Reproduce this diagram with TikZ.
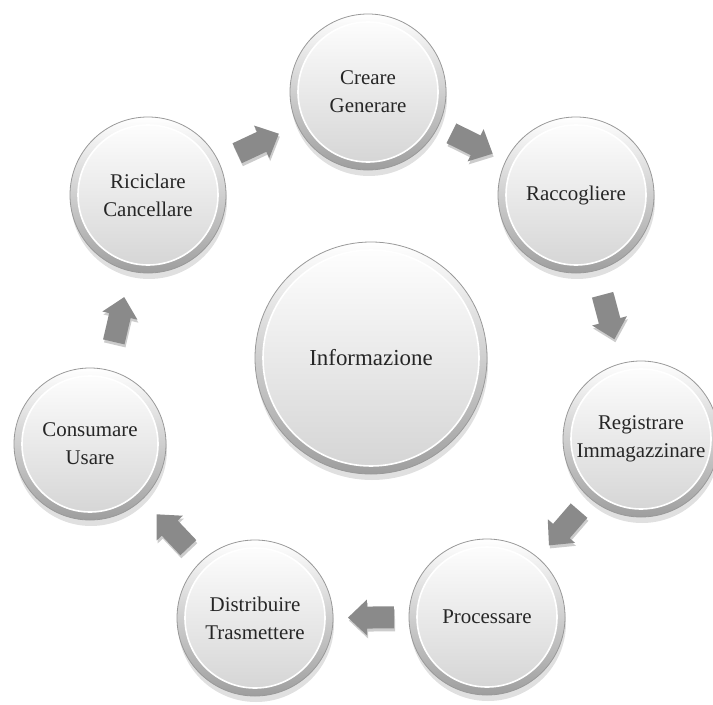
\documentclass[tikz,border=0pt]{standalone}
\usepackage{fontspec}
\setmainfont{Liberation Serif}
\usetikzlibrary{calc,shadows}
\tikzset{
  ball/.style={circle, minimum size=2*#1*1bp, inner sep=0pt, align=center,
    font=\fontsize{21}{28}\selectfont, text=black!85,
    draw=black!40, line width=0.8bp,
    top color=white, bottom color=black!38,
    drop shadow={shadow xshift=1bp, shadow yshift=-6bp, opacity=0.12, fill=black},
    path picture={\shadedraw[top color=white, bottom color=black!17, draw=white, line width=1.6bp]
      (path picture bounding box.center) circle[radius=#1-8];}},
  bigfont/.style={font=\fontsize{23}{28}\selectfont},
  barrow/.pic={\fill[black!46, drop shadow={shadow xshift=1bp, shadow yshift=-3bp, opacity=0.2, fill=black}]
      (-23,-11) -- (4,-11) -- (4,-18) -- (23,0) -- (4,18) -- (4,11) -- (-23,11) -- cycle;}
}
\newcommand\cycarrow[2]{\path let \p1=(#1.center), \p2=(#2.center),
  \n1={atan2(\y2-\y1,\x2-\x1)} in pic[rotate=\n1] at ($(\p1)!0.5!(\p2)$) {barrow};}
\begin{document}
\begin{tikzpicture}[x=1bp,y=-1bp]
\useasboundingbox (0,0) rectangle (713,705);
\node[ball=116, bigfont] (info) at (371,358) {Informazione};
\node[ball=78] (c1) at (368,92) {Creare\\Generare};
\node[ball=78] (c2) at (576,195) {Raccogliere};
\node[ball=78] (c3) at (641,439) {Registrare\\Immagazzinare};
\node[ball=78] (c4) at (487,617) {Processare};
\node[ball=78] (c5) at (255,618) {Distribuire\\Trasmettere};
\node[ball=76] (c6) at (90,444) {Consumare\\Usare};
\node[ball=78] (c7) at (148,195) {Riciclare\\Cancellare};
\cycarrow{c7}{c1}
\cycarrow{c1}{c2}
\cycarrow{c2}{c3}
\cycarrow{c3}{c4}
\cycarrow{c4}{c5}
\cycarrow{c5}{c6}
\cycarrow{c6}{c7}
\end{tikzpicture}
\end{document}
